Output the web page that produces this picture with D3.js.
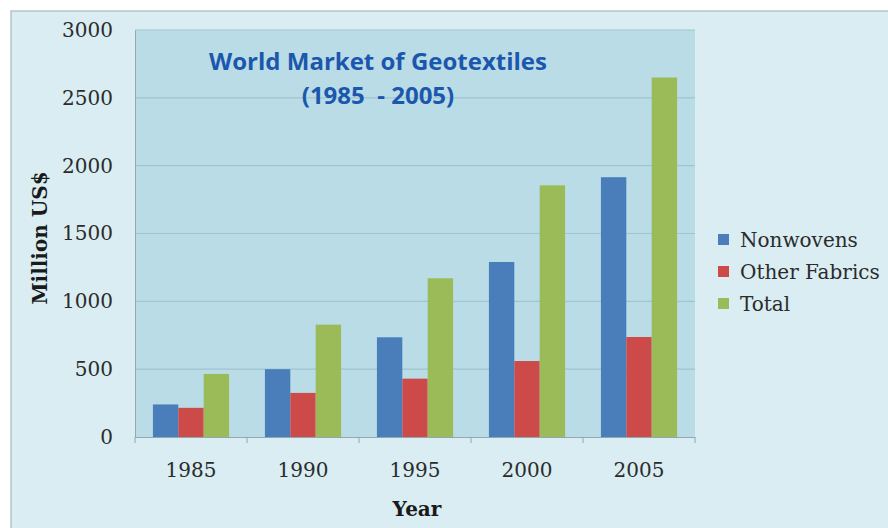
<!DOCTYPE html>
<html>
<head>
<meta charset="utf-8">
<script src="https://cdn.jsdelivr.net/npm/d3@7"></script>
<style>
  body { margin: 0; background: #ffffff; }
  svg { display: block; }
</style>
</head>
<body>
<svg id="canvas" width="888" height="528"></svg>
<script>
// data
const years = ["1985", "1990", "1995", "2000", "2005"]
const nonwovens = [240, 500, 735, 1290, 1915]
const otherFabrics = [215, 325, 430, 560, 737]
const total = [465, 828, 1170, 1855, 2650]
const seriesNames = ["Nonwovens", "Other Fabrics", "Total"]
const seriesColors = ["#4a7ebb", "#cc4b48", "#9bbb59"]
const yTicks = [0, 500, 1000, 1500, 2000, 2500, 3000]

const series = [nonwovens, otherFabrics, total]

let canvas = d3.select("#canvas")

const plot = {left: 135, right: 695, top: 30, bottom: 437}

// outer panel
canvas.append("rect")
      .attr("x", 11)
      .attr("y", 11)
      .attr("width", 900)
      .attr("height", 540)
      .attr("fill", "#d9edf2")
      .attr("stroke", "#b9c4c6")
      .attr("stroke-width", 1.5)

// plot area
canvas.append("rect")
      .attr("x", plot.left)
      .attr("y", plot.top)
      .attr("width", plot.right - plot.left)
      .attr("height", plot.bottom - plot.top)
      .attr("fill", "#b9dce7")

let x = d3.scaleBand()
          .domain(years)
          .range([plot.left, plot.right])
          .paddingInner(0.32)
          .paddingOuter(0.16)

let xOuter = d3.scaleBand()
               .domain(years)
               .range([plot.left, plot.right])

let xSub = d3.scaleBand()
             .domain(seriesNames)
             .range([0, x.bandwidth()])

let y = d3.scaleLinear()
          .domain([0, 3000])
          .range([plot.bottom, plot.top])

// gridlines
canvas.append("g")
      .selectAll("line")
      .data(yTicks.slice(1))
      .enter()
      .append("line")
      .attr("x1", plot.left)
      .attr("x2", plot.right)
      .attr("y1", (d) => y(d))
      .attr("y2", (d) => y(d))
      .attr("stroke", "#9fc5d0")
      .attr("stroke-width", 1.2)

// y axis
let yAxis = d3.axisLeft(y)
              .tickValues(yTicks)
              .tickSize(0)
              .tickPadding(22)
              .tickFormat(d3.format("d"))

let gy = canvas.append("g")
               .attr("transform", "translate(" + plot.left + ",0)")
               .call(yAxis)
gy.select(".domain").attr("stroke", "#8fa9b0")
gy.selectAll("text")
  .attr("font-family", "DejaVu Serif")
  .attr("font-size", 20)
  .attr("fill", "#2b2b2b")

// x axis
let xAxis = d3.axisBottom(xOuter)
              .tickSize(0)
              .tickPadding(26)

let gx = canvas.append("g")
               .attr("transform", "translate(0," + plot.bottom + ")")
               .call(xAxis)
gx.select(".domain").attr("stroke", "#8fa9b0")
gx.selectAll("text")
  .attr("font-family", "DejaVu Serif")
  .attr("font-size", 20)
  .attr("fill", "#2b2b2b")

// tick marks between categories
canvas.append("g")
      .selectAll("line")
      .data(years)
      .enter()
      .append("line")
      .attr("x1", (d) => xOuter(d))
      .attr("x2", (d) => xOuter(d))
      .attr("y1", plot.bottom)
      .attr("y2", plot.bottom + 6)
      .attr("stroke", "#8fa9b0")
canvas.append("line")
      .attr("x1", plot.right)
      .attr("x2", plot.right)
      .attr("y1", plot.bottom)
      .attr("y2", plot.bottom + 6)
      .attr("stroke", "#8fa9b0")

// bars
seriesNames.forEach((name, s) => {
  canvas.append("g")
        .selectAll("rect")
        .data(series[s])
        .enter()
        .append("rect")
        .attr("x", (d, i) => x(years[i]) + xSub(name))
        .attr("y", (d) => y(d))
        .attr("width", xSub.bandwidth())
        .attr("height", (d) => plot.bottom - y(d))
        .attr("fill", seriesColors[s])
})

// title
canvas.append("text")
      .attr("x", 378)
      .attr("y", 70)
      .attr("text-anchor", "middle")
      .attr("font-family", "Open Sans")
      .attr("font-weight", "bold")
      .attr("font-size", 24)
      .attr("fill", "#1b57ad")
      .text("World Market of Geotextiles")
canvas.append("text")
      .attr("x", 378)
      .attr("y", 104)
      .attr("text-anchor", "middle")
      .attr("font-family", "Open Sans")
      .attr("font-weight", "bold")
      .attr("font-size", 24)
      .attr("fill", "#1b57ad")
      .attr("xml:space", "preserve")
      .text("(1985  - 2005)")

// axis titles
canvas.append("text")
      .attr("transform", "translate(47,238) rotate(-90)")
      .attr("text-anchor", "middle")
      .attr("font-family", "DejaVu Serif")
      .attr("font-weight", "bold")
      .attr("font-size", 20)
      .attr("fill", "#1a1a1a")
      .text("Million US$")

canvas.append("text")
      .attr("x", 417)
      .attr("y", 516)
      .attr("text-anchor", "middle")
      .attr("font-family", "DejaVu Serif")
      .attr("font-weight", "bold")
      .attr("font-size", 20)
      .attr("fill", "#1a1a1a")
      .text("Year")

// legend
let legend = canvas.append("g")
const lg = legend.selectAll("g")
                 .data(seriesNames)
                 .enter()
                 .append("g")
                 .attr("transform", (d, i) => "translate(718," + (240 + i * 32) + ")")

lg.append("rect")
  .attr("x", 0)
  .attr("y", -6)
  .attr("width", 11)
  .attr("height", 11)
  .attr("fill", (d, i) => seriesColors[i])

lg.append("text")
  .attr("x", 22)
  .attr("y", 7)
  .attr("font-family", "DejaVu Serif")
  .attr("font-size", 20)
  .attr("fill", "#2b2b2b")
  .text((d) => d)
</script>
</body>
</html>
